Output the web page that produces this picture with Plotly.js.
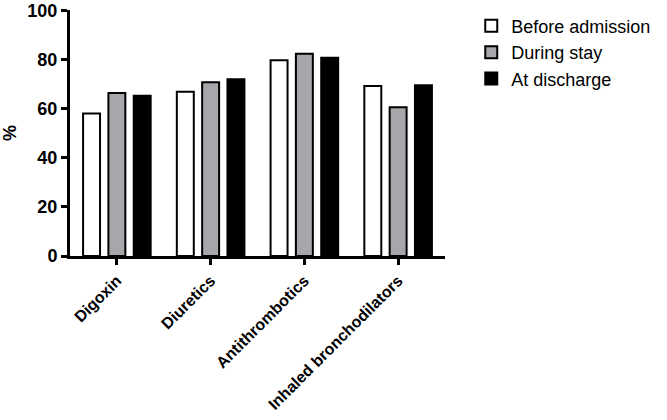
<!DOCTYPE html>
<html>
<head>
<meta charset="utf-8">
<script src="https://cdn.plot.ly/plotly-3.0.1.min.js"></script>
<style>
  body { margin: 0; background: #fff; }
  #chart { width: 667px; height: 420px; }
</style>
</head>
<body>
<div id="chart"></div>
<script>
// drug classes on the x axis
var drugClasses = ["Digoxin", "Diuretics", "Antithrombotics", "Inhaled bronchodilators"];

// percent of patients per period
var beforeAdmission = [58, 66.9, 79.7, 69.2];
var duringStay = [66.4, 70.8, 82.4, 60.6];
var atDischarge = [65.3, 72, 80.8, 69.6];

var yTicks = [0, 20, 40, 60, 80, 100];

var outline = {color: "#000000", width: 2};

var traceBefore = {
    x: drugClasses,
    y: beforeAdmission,
    name: "Before admission",
    type: "bar",
    marker: {color: "#ffffff", line: outline}
};
var traceDuring = {
    x: drugClasses,
    y: duringStay,
    name: "During stay",
    type: "bar",
    marker: {color: "#a6a6ab", line: outline}
};
var traceDischarge = {
    x: drugClasses,
    y: atDischarge,
    name: "At discharge",
    type: "bar",
    marker: {color: "#000000", line: outline}
};

var data = [traceBefore, traceDuring, traceDischarge];

var layout = {
    width: 667,
    height: 420,
    margin: {l: 70, r: 222, t: 8, b: 164},
    barmode: "group",
    bargap: 0.19,
    bargroupgap: 0.33,
    paper_bgcolor: "#ffffff",
    plot_bgcolor: "#ffffff",
    font: {family: "Liberation Sans, Arial, sans-serif", color: "#000000"},
    showlegend: true,
    legend: {
        x: 1.07, y: 1.01, xanchor: "left", yanchor: "top",
        font: {size: 18, family: "Liberation Sans, Arial, sans-serif"},
        tracegroupgap: 0,
        itemwidth: 30
    },
    xaxis: {
        range: [-0.5, 3.5],
        showline: true,
        linecolor: "#000000",
        linewidth: 3,
        ticks: "outside",
        ticklen: 6,
        tickwidth: 3,
        tickcolor: "#000000",
        tickangle: -45,
        tickfont: {size: 16, family: "Liberation Sans, Arial, sans-serif", weight: "bold"},
        showgrid: false,
        zeroline: false
    },
    yaxis: {
        range: [0, 100.2],
        tickvals: yTicks,
        showline: true,
        linecolor: "#000000",
        linewidth: 3,
        ticks: "outside",
        ticklen: 6,
        tickwidth: 3,
        tickcolor: "#000000",
        tickfont: {size: 18, family: "Liberation Sans, Arial, sans-serif", weight: "bold"},
        showgrid: false,
        zeroline: false,
        title: {text: "%", font: {size: 18, weight: "bold"}, standoff: 14}
    }
};

Plotly.newPlot("chart", data, layout, {displayModeBar: false});
</script>
</body>
</html>
